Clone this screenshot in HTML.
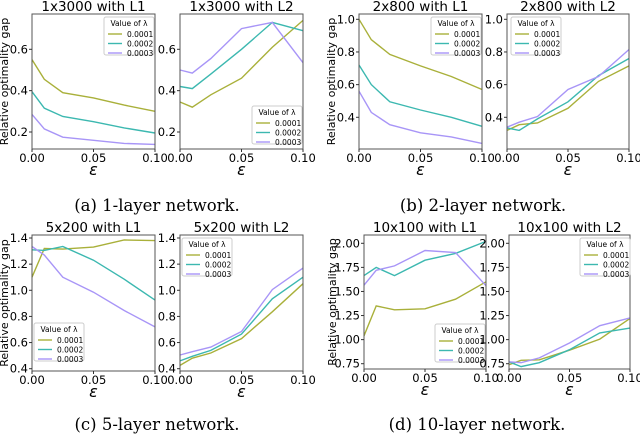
<!DOCTYPE html>
<html><head><meta charset="utf-8"><style>
body{margin:0;background:#fff;width:640px;height:436px;overflow:hidden}
svg text{font-family:"DejaVu Sans","Liberation Sans",sans-serif}
.cap{font-family:"DejaVu Serif","Liberation Serif",serif;font-size:16.5px}
</style></head><body>
<svg id="fig" width="640" height="436" xmlns="http://www.w3.org/2000/svg"></svg>
<script>
const xVals=[0,0.01,0.025,0.05,0.075,0.1];
const lambdas=["0.0001","0.0002","0.0003"];
const colors=["#a9b03a","#3cb8b0","#a895f7"];
const a1=[[.55,.455,.39,.365,.33,.30],[.395,.315,.275,.25,.22,.195],[.285,.215,.175,.16,.145,.14]];
const a2=[[.345,.32,.38,.46,.61,.74],[.42,.41,.48,.60,.73,.69],[.50,.485,.555,.70,.73,.535]];
const b1=[[1.0,.875,.785,.715,.65,.57],[.72,.60,.495,.445,.40,.345],[.56,.43,.355,.305,.28,.24]];
const b2=[[.32,.355,.365,.455,.62,.715],[.335,.32,.39,.495,.655,.76],[.34,.37,.405,.57,.65,.815]];
const c1=[[1.10,1.32,1.315,1.33,1.385,1.38],[1.31,1.305,1.335,1.23,1.085,.925],[1.335,1.27,1.10,.985,.845,.72]];
const c2=[[.425,.48,.52,.63,.835,1.05],[.46,.495,.54,.665,.935,1.10],[.505,.53,.565,.685,1.005,1.17]];
const d1=[[1.04,1.35,1.31,1.32,1.42,1.60],[1.665,1.75,1.665,1.825,1.895,2.02],[1.565,1.72,1.765,1.925,1.905,1.56]];
const d2=[[.74,.785,.79,.89,1.005,1.22],[.77,.72,.76,.895,1.07,1.12],[.77,.76,.81,.965,1.145,1.225]];
const ticksA=[0.2,0.4,0.6], ticksB=[0.4,0.6,0.8,1.0], ticksC=[0.4,0.6,0.8,1.0,1.2,1.4], ticksD=[0.75,1.0,1.25,1.5,1.75,2.0];
const xTicks=[0,0.05,0.1];
const xTickLabels=["0.00","0.05","0.10"];
const NS="http://www.w3.org/2000/svg";
const svg=document.getElementById('fig');
function mk(tag,attrs,parent){const e=document.createElementNS(NS,tag);for(const k in attrs)e.setAttribute(k,attrs[k]);(parent||svg).appendChild(e);return e;}
function panel(o){
  const g=mk('g',{});
  
  
  const X=v=>o.l+(v-0)/(0.1)*(o.r-o.l);
  const Y=v=>o.y1+(v-o.v1)/(o.v2-o.v1)*(o.y2-o.y1);
  o.data.forEach((s,i)=>{
    const p=mk('polyline',{points:s.map((v,j)=>X(xVals[j]).toFixed(1)+','+Y(v).toFixed(1)).join(' '),fill:'none',stroke:colors[i],'stroke-width':1.4},g);
    
    
  });
  const fr=mk('rect',{x:o.l,y:o.t,width:o.r-o.l,height:o.b-o.t,fill:'none',stroke:'#555','stroke-width':1},g);
  
  
  o.yt.forEach(v=>{const y=Y(v);mk('line',{x1:o.l-3,x2:o.l,y1:y,y2:y,stroke:'#333'},g);
    const t=mk('text',{x:o.l-4,y:y+4,'text-anchor':'end','font-size':11.5},g);t.textContent=o.fmt(v);
    
    });
  xTicks.forEach((v,i)=>{const x=X(v);mk('line',{x1:x,x2:x,y1:o.b,y2:o.b+3,stroke:'#333'},g);
    const t=mk('text',{x:x,y:o.b+13,'text-anchor':'middle','font-size':11.5},g);t.textContent=xTickLabels[i];
    
    });
  const ti=mk('text',{x:(o.l+o.r)/2,y:o.t-3,'text-anchor':'middle','font-size':13.5},g);ti.textContent=o.title;
  
  
  const xl=mk('text',{x:(o.l+o.r)/2,y:o.b+26,'text-anchor':'middle','font-size':16,'font-style':'italic'},g);xl.textContent='ε';
  
  
  if(o.ylab!==undefined){const yl=mk('text',{x:0,y:0,transform:`translate(${o.ylab},${(o.t+o.b)/2}) rotate(-90)`,'text-anchor':'middle','font-size':11},g);yl.textContent='Relative optimality gap';
    
    }
  const L=o.leg;const lg=mk('g',{},g);
  
  
  mk('rect',{x:L[0],y:L[1],width:50,height:38,fill:'#fff',stroke:'#ccc',rx:2},lg);
  const lt=mk('text',{x:L[0]+25,y:L[1]+9,'text-anchor':'middle','font-size':7.5},lg);lt.textContent='Value of λ';
  lambdas.forEach((s,i)=>{const y=L[1]+17+i*9.5;mk('line',{x1:L[0]+4,x2:L[0]+18,y1:y,y2:y,stroke:colors[i],'stroke-width':1.4},lg);
    const e=mk('text',{x:L[0]+23,y:y+3,'font-size':7.5},lg);e.textContent=s;
    
    });
}
const f2=v=>v.toFixed(1), f3=v=>v.toFixed(2);
panel({name:'panel-1x3000-l1',title:'1x3000 with L1',l:32,r:155,t:14,b:149,y1:132,v1:0.2,y2:49.3,v2:0.6,yt:ticksA,fmt:f2,data:a1,leg:[104,17],ylab:8});
panel({name:'panel-1x3000-l2',title:'1x3000 with L2',l:180,r:303,t:14,b:149,y1:132,v1:0.2,y2:49.3,v2:0.6,yt:ticksA,fmt:f2,data:a2,leg:[252,106]});
panel({name:'panel-2x800-l1',title:'2x800 with L1',l:359,r:482,t:14,b:149,y1:117.3,v1:0.4,y2:19.3,v2:1.0,yt:ticksB,fmt:f2,data:b1,leg:[431,17],ylab:335});
panel({name:'panel-2x800-l2',title:'2x800 with L2',l:507,r:629,t:14,b:149,y1:117.3,v1:0.4,y2:19.3,v2:1.0,yt:ticksB,fmt:f2,data:b2,leg:[511,17]});
panel({name:'panel-5x200-l1',title:'5x200 with L1',l:32,r:155,t:235,b:371,y1:368.7,v1:0.4,y2:238,v2:1.4,yt:ticksC,fmt:f2,data:c1,leg:[34,323],ylab:8});
panel({name:'panel-5x200-l2',title:'5x200 with L2',l:180,r:303,t:235,b:371,y1:368.7,v1:0.4,y2:238,v2:1.4,yt:ticksC,fmt:f2,data:c2,leg:[182,238]});
panel({name:'panel-10x100-l1',title:'10x100 with L1',l:364,r:486,t:235,b:369,y1:363.7,v1:0.75,y2:243.3,v2:2.0,yt:ticksD,fmt:f3,data:d1,leg:[435,324],ylab:336});
panel({name:'panel-10x100-l2',title:'10x100 with L2',l:509,r:630,t:235,b:369,y1:363.7,v1:0.75,y2:243.3,v2:2.0,yt:ticksD,fmt:f3,data:d2,leg:[580,238]});
[["(a) 1-layer network.",157,211],["(b) 2-layer network.",483,211],["(c) 5-layer network.",157,430],["(d) 10-layer network.",477,430]].forEach(c=>{
  const t=mk('text',{x:c[1],y:c[2],'text-anchor':'middle',class:'cap'});t.textContent=c[0];
  
  });
</script>
</body></html>
